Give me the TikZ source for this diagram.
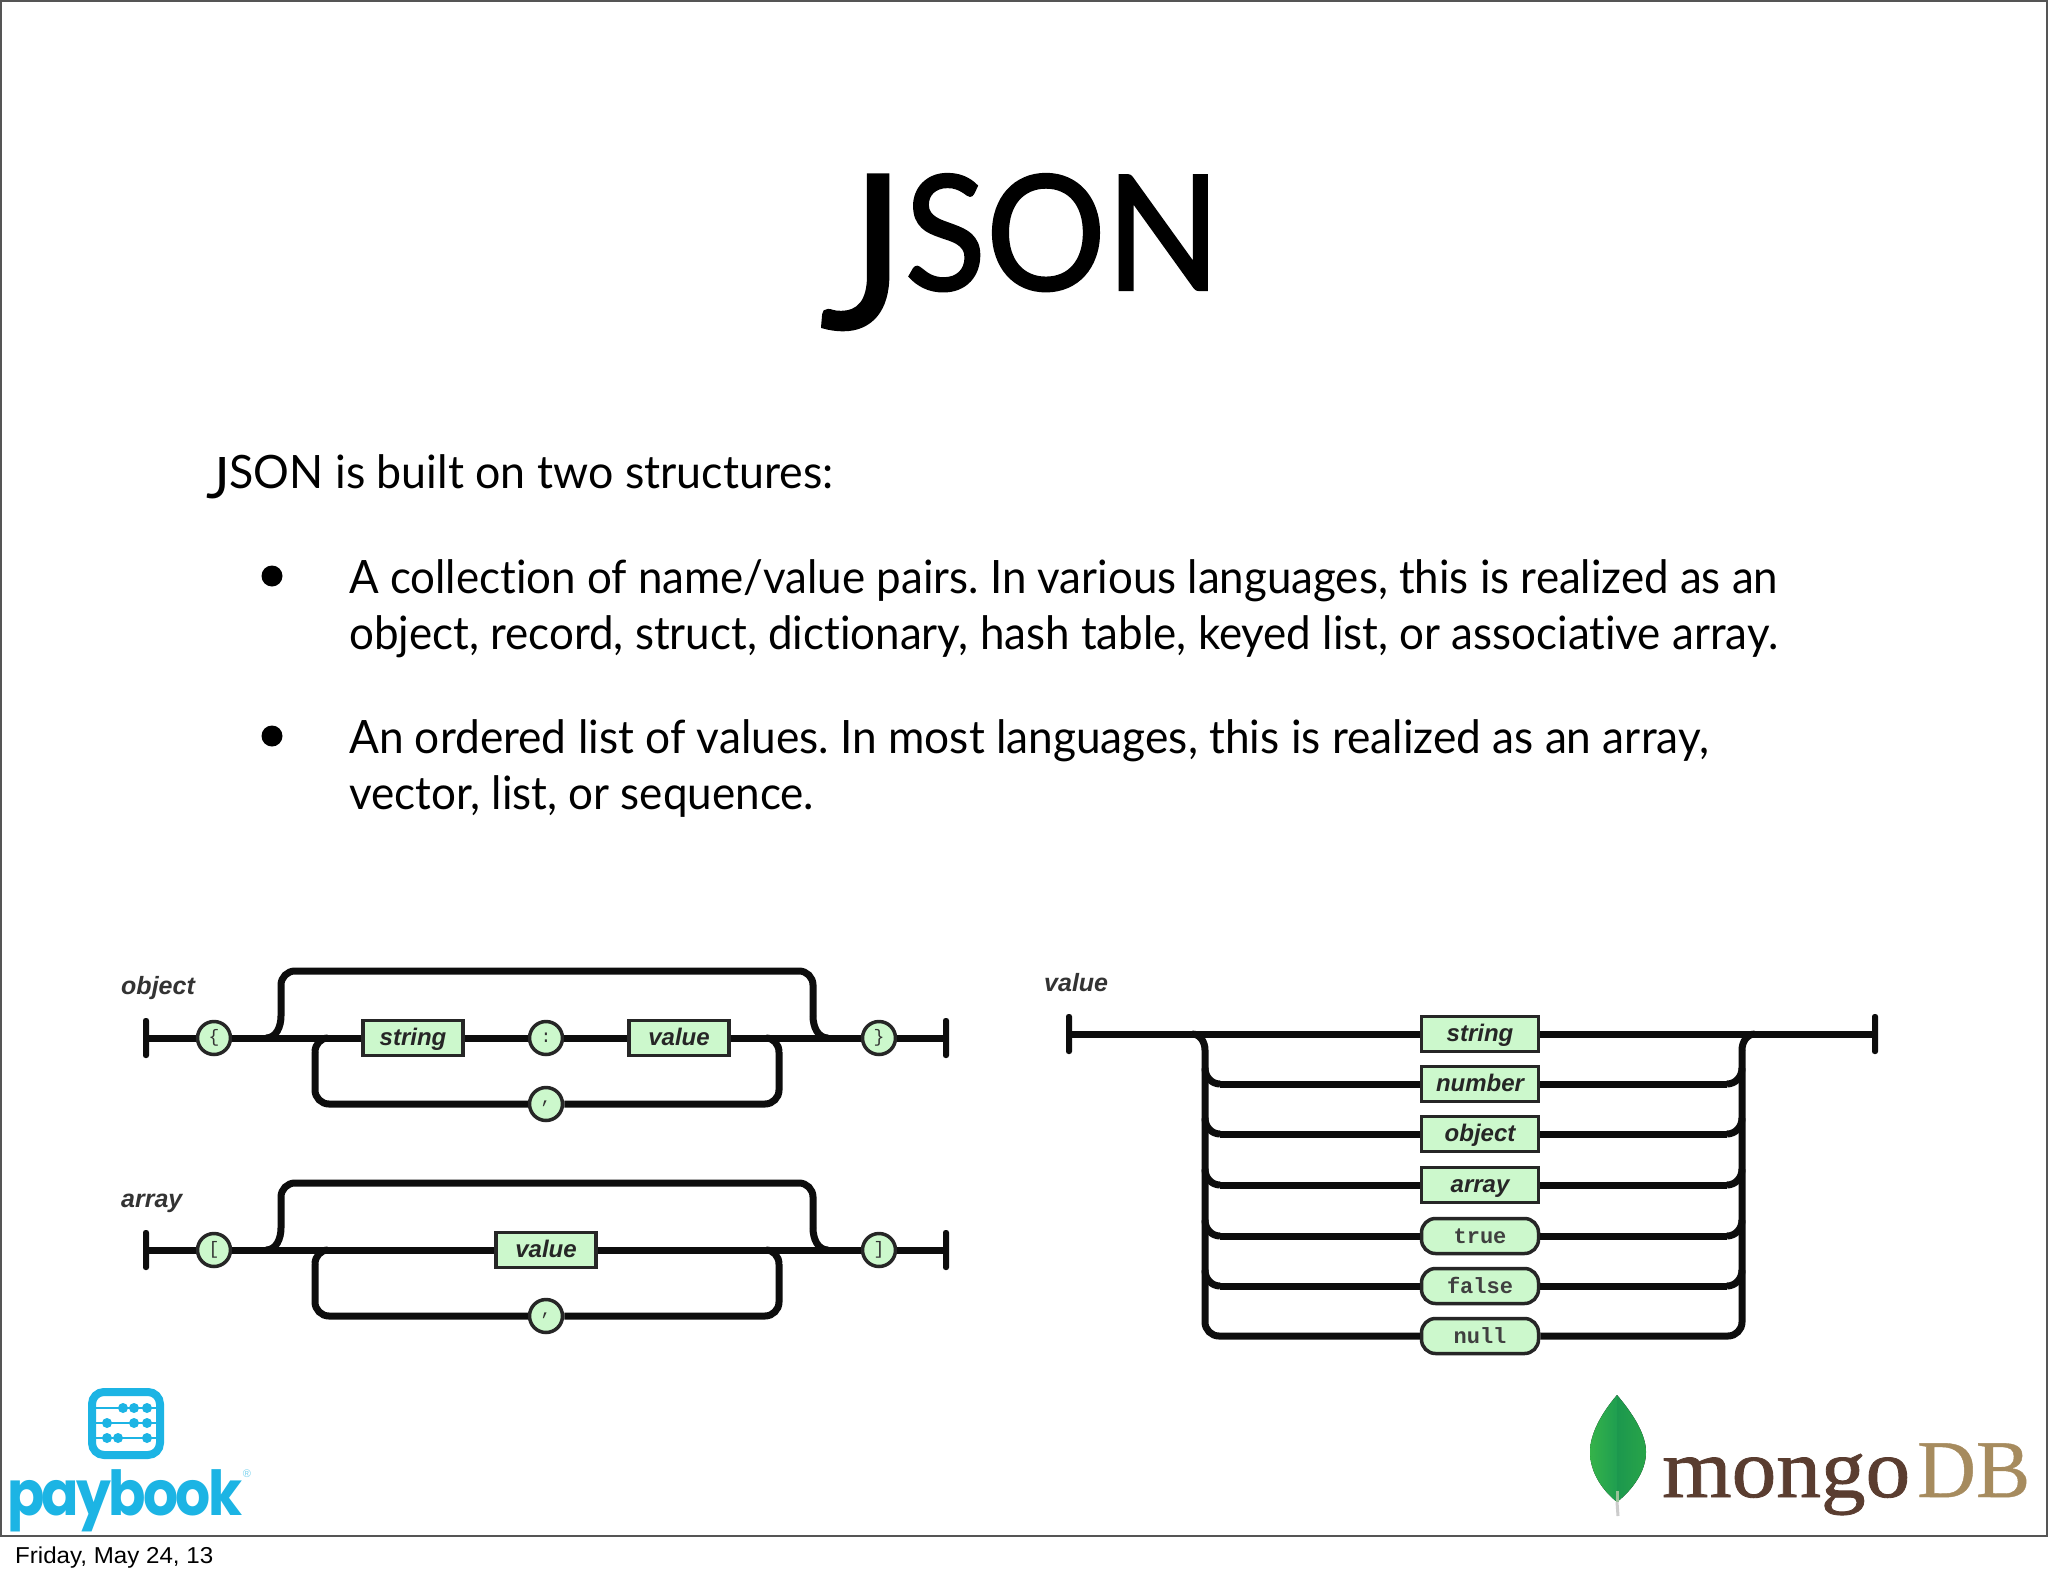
\documentclass[tikz,border=0pt]{standalone}
\usepackage{fontspec}
\setmainfont{Lato}[Ligatures=NoCommon]
\newfontfamily\titlefont{Lato}[Ligatures=NoCommon,FakeBold=1.5]
\newfontfamily\diagsans{Liberation Sans}
\newfontfamily\diagmono{Liberation Mono}
\newfontfamily\mongofont{Liberation Serif}[FakeBold=1]
\newfontfamily\dbfont{Liberation Serif}[FakeBold=0.5]
\newfontfamily\payfont{Poppins}[LetterSpace=-5]
\definecolor{frame}{HTML}{555555}
\definecolor{boxgreen}{HTML}{CCF8CC}
\definecolor{paybl}{HTML}{1CB4E4}
\definecolor{mbrown}{HTML}{5A3D30}
\definecolor{mtan}{HTML}{A68B5E}
\definecolor{leafA}{HTML}{35B34A}
\definecolor{leafB}{HTML}{1F9E50}
\definecolor{leafC}{HTML}{1C984E}
\definecolor{leafD}{HTML}{28A449}
\newcommand{\fitw}[2]{\resizebox{#1pt}{\height}{#2}}
\newcommand{\tallJ}[2]{\raisebox{-#2pt}{\resizebox{!}{#1pt}{J}}}
\tikzset{
  x=1pt,y=-1pt,
  rail/.style={line width=7pt,black!95},
  railr/.style={rail,rounded corners=14pt},
  endbar/.style={fill=black!95,rounded corners=2.5pt,minimum width=6pt,minimum height=40pt,inner sep=0pt},
  termbox/.style={draw=black!85,line width=3.5pt,fill=boxgreen,minimum width=#1,minimum height=35pt,inner sep=0pt,text height=18pt,text depth=4pt,font=\diagsans\bfseries\itshape\fontsize{24}{24}\selectfont,text=black!85},
  termbox/.default=100pt,
  litbox/.style={draw=black!85,line width=3.5pt,fill=boxgreen,rounded corners=14pt,minimum width=117pt,minimum height=35pt,inner sep=0pt,text height=18pt,text depth=4pt,font=\diagmono\bfseries\fontsize{22}{22}\selectfont,text=black!75},
  tokc/.style={circle,draw=black!85,line width=3.5pt,fill=boxgreen,minimum size=33pt,inner sep=0pt,font=\diagmono\fontsize{18}{18}\selectfont,text=black!80},
  rulelabel/.style={anchor=base west,inner sep=0pt,font=\diagsans\bfseries\itshape\fontsize{25}{25}\selectfont,text=black!80},
  bodyline/.style={anchor=base west,inner sep=0pt,font=\fontsize{46}{46}\selectfont},
  bul/.style={circle,fill=black,inner sep=0pt,minimum size=21pt},
}
\begin{document}
\frenchspacing
\begin{tikzpicture}
\useasboundingbox (0,0) rectangle (2048,1576);
\fill[white] (0,0) rectangle (2048,1576);
\coordinate (fTL) at (1,1); \coordinate (fBR) at (2047,1536);
\draw[frame,line width=2pt] (fTL) rectangle (fBR);

\node[anchor=base west,inner sep=0pt,font=\titlefont\fontsize{160}{160}\selectfont] (title) at (820,290) {\fitw{400}{\tallJ{153}{38}SON}};
\node[bodyline] (l0) at (206,488) {\fitw{627}{\tallJ{41}{10}SON is built on two structures:}};
\node[bul] (b1) at (272,576) {};
\node[bul] (b2) at (272,736) {};
\node[bodyline] (l1) at (349,593) {\fitw{1429}{A collection of name/value pairs. In various languages, this is realized as an}};
\node[bodyline] (l2) at (349,649) {\fitw{1429}{object, record, struct, dictionary, hash table, keyed list, or associative array.}};
\node[bodyline] (l3) at (349,753) {\fitw{1360}{An ordered list of values. In most languages, this is realized as an array,}};
\node[bodyline] (l4) at (349,809) {\fitw{465}{vector, list, or sequence.}};

% object diagram
\node[rulelabel] (objL) at (121,994) {object};
\node[endbar] (oBL) at (146,1038) {};
\node[endbar] (oBR) at (946,1038) {};
\node[tokc] (oc1) at (214,1038) {\{};
\node[termbox=100pt] (ostr) at (413,1038) {string};
\node[tokc] (oc2) at (546,1038) {:};
\node[termbox=100pt] (oval) at (679,1038) {value};
\node[tokc] (oc3) at (879,1038) {\}};
\node[tokc] (oc4) at (546,1104) {,};
\coordinate (ojL) at (266,1038); \coordinate (ob1) at (281,1016);
\coordinate (otl) at (281,971); \coordinate (otr) at (813,971);
\coordinate (ob2) at (813,1016); \coordinate (ojR) at (828,1038);
\coordinate (olL) at (328,1038); \coordinate (ol1) at (315,1052);
\coordinate (ol2) at (315,1104); \coordinate (ol3) at (779,1104);
\coordinate (ol4) at (779,1052); \coordinate (olR) at (766,1038);
\draw[rail] (oBL) -- (oc1);
\draw[rail] (oc1) -- (ostr);
\draw[rail] (ostr) -- (oc2);
\draw[rail] (oc2) -- (oval);
\draw[rail] (oval) -- (oc3);
\draw[rail] (oc3) -- (oBR);
\draw[rail] (ojL) to[out=0,in=-90] (ob1);
\draw[railr] (ob1) -- (otl) -- (otr) -- (ob2);
\draw[rail] (ob2) to[out=-90,in=180] (ojR);
\draw[railr] (oc4) -- (ol2) -- (ol1);
\draw[rail] (ol1) to[out=90,in=180] (olL);
\draw[railr] (oc4) -- (ol3) -- (ol4);
\draw[rail] (ol4) to[out=90,in=0] (olR);

% array diagram
\node[rulelabel] (arrL) at (121,1207) {array};
\node[endbar] (aBL) at (146,1250) {};
\node[endbar] (aBR) at (946,1250) {};
\node[tokc] (ac1) at (214,1250) {[};
\node[termbox=100pt] (aval) at (546,1250) {value};
\node[tokc] (ac3) at (879,1250) {]};
\node[tokc] (ac4) at (546,1316) {,};
\coordinate (ajL) at (266,1250); \coordinate (ab1) at (281,1228);
\coordinate (atl) at (281,1183); \coordinate (atr) at (813,1183);
\coordinate (ab2) at (813,1228); \coordinate (ajR) at (828,1250);
\coordinate (alL) at (328,1250); \coordinate (al1) at (315,1264);
\coordinate (al2) at (315,1316); \coordinate (al3) at (779,1316);
\coordinate (al4) at (779,1264); \coordinate (alR) at (766,1250);
\draw[rail] (aBL) -- (ac1);
\draw[rail] (ac1) -- (aval);
\draw[rail] (aval) -- (ac3);
\draw[rail] (ac3) -- (aBR);
\draw[rail] (ajL) to[out=0,in=-90] (ab1);
\draw[railr] (ab1) -- (atl) -- (atr) -- (ab2);
\draw[rail] (ab2) to[out=-90,in=180] (ajR);
\draw[railr] (ac4) -- (al2) -- (al1);
\draw[rail] (al1) to[out=90,in=180] (alL);
\draw[railr] (ac4) -- (al3) -- (al4);
\draw[rail] (al4) to[out=90,in=0] (alR);

% value diagram
\node[rulelabel] (valL) at (1044,991) {value};
\node[endbar] (vBL) at (1069,1034) {};
\node[endbar] (vBR) at (1875,1034) {};
\foreach \nm/\yy/\tx in {vstr/1034/string,vnum/1084/number,vobj/1134/object,varr/1185/array}
  \node[termbox=117pt] (\nm) at (1480,\yy) {\tx};
\foreach \nm/\yy/\tx in {vtru/1236/true,vfal/1286/false,vnul/1336/null}
  \node[litbox] (\nm) at (1480,\yy) {\tx};
\coordinate (vjL) at (1192,1034); \coordinate (vjR) at (1755,1034);
\coordinate (vlT) at (1205,1050); \coordinate (vrT) at (1742,1050);
\coordinate (vlB) at (1205,1336); \coordinate (vrB) at (1742,1336);
\draw[rail] (vBL) -- (vstr);
\draw[rail] (vstr) -- (vBR);
\draw[rail] (vjL) to[out=0,in=90] (vlT);
\draw[rail] (vjR) to[out=180,in=90] (vrT);
\draw[railr] (vlT) -- (vlB) -- (vnul);
\draw[railr] (vrT) -- (vrB) -- (vnul);
\foreach \nm/\yy in {vnum/1084,vobj/1134,varr/1185,vtru/1236,vfal/1286}{
  \coordinate (\nm a) at (1205,\yy-16);
  \coordinate (\nm b) at (1220,\yy);
  \coordinate (\nm c) at (1742,\yy-16);
  \coordinate (\nm d) at (1727,\yy);
  \draw[rail] (\nm a) to[out=-90,in=180] (\nm b);
  \draw[rail] (\nm b) -- (\nm);
  \draw[rail] (\nm c) to[out=-90,in=0] (\nm d);
  \draw[rail] (\nm d) -- (\nm);
}

% paybook logo
\node[draw=paybl,line width=8pt,rounded corners=12pt,minimum width=68pt,minimum height=63pt,inner sep=0pt] (icon) at (126,1423.5) {};
\foreach \yy/\xa/\xb/\xc in {1408/123/134/147,1423/107/134/147,1438/107/118/147}{
  \draw[paybl,line width=2pt] (96,\yy) -- (156,\yy);
  \fill[paybl] (\xa,\yy) circle[radius=5] (\xb,\yy) circle[radius=5] (\xc,\yy) circle[radius=5];
}
\node[anchor=base west,inner sep=0pt,text=paybl,font=\payfont\bfseries\fontsize{62}{62}\selectfont] (pay) at (7,1515) {\fitw{235}{paybook}};
\node[inner sep=0pt,text=paybl!60,font=\diagsans\fontsize{11}{11}\selectfont] (reg) at (247,1474) {®};

% mongodb logo
\coordinate (lfT) at (1617,1395); \coordinate (lfB) at (1617,1502);
\coordinate (lfM) at (1617,1491); \coordinate (lfS) at (1618,1516);
\fill[left color=leafA,right color=leafB] (lfT) .. controls (1600,1415) and (1590,1435) .. (1590,1452) .. controls (1590,1472) and (1602,1490) .. (lfB) -- cycle;
\fill[left color=leafC,right color=leafD] (lfT) .. controls (1634,1415) and (1646,1435) .. (1646,1452) .. controls (1646,1472) and (1632,1490) .. (lfB) -- cycle;
\draw[black!20,line width=3pt] (lfB) -- (lfS);
\draw[green!40!black!40!white,line width=3pt] (lfM) -- (lfB);
\node[anchor=base west,inner sep=0pt,text=mbrown,font=\mongofont\fontsize{84}{84}\selectfont] (mg) at (1662,1497) {\fitw{248}{mongo}};
\node[anchor=base west,inner sep=0pt,text=mtan,font=\dbfont\fontsize{82}{82}\selectfont] (db) at (1917,1497) {\fitw{113}{DB}};

\node[anchor=base west,inner sep=0pt,font=\diagsans\fontsize{23}{23}\selectfont] (date) at (15,1563) {\fitw{198}{Friday, May 24, 13}};
\end{tikzpicture}
\end{document}
